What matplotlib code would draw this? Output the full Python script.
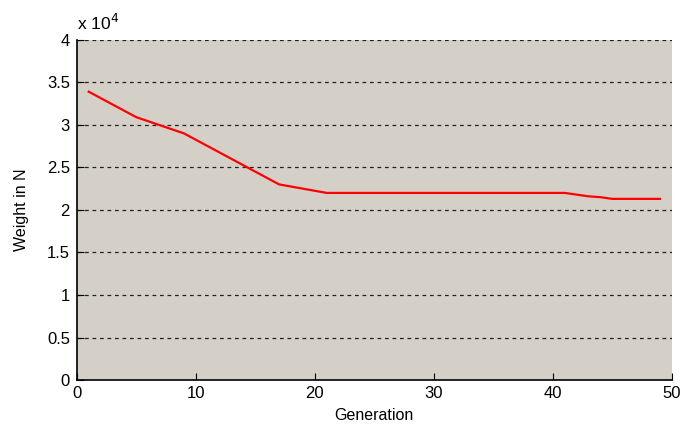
import numpy as np
import matplotlib
matplotlib.use('Agg')
import matplotlib.pyplot as plt

# values (weight in N per generation)
generation = [1, 5, 9, 17, 21, 41, 42, 43, 44, 45, 49]
weight = [33900, 30900, 29000, 23000, 22000, 22000, 21800, 21600, 21500, 21300, 21300]
y_ticks = [0, 0.5, 1, 1.5, 2, 2.5, 3, 3.5, 4]
x_ticks = [0, 10, 20, 30, 40, 50]

BG = '#d4d0c8'

plt.rcParams['font.family'] = ['Liberation Sans', 'DejaVu Sans']

fig = plt.figure(figsize=(6.8, 4.28), dpi=100)
ax = fig.add_axes([0.113, 0.112, 0.875, 0.795])
ax.set_facecolor(BG)

ax.plot(generation, np.array(weight) / 1e4, color='red', lw=1.6)

ax.set_xlim(0, 50)
ax.set_ylim(0, 4)
ax.set_xticks(x_ticks)
ax.set_yticks(y_ticks)
ax.set_yticklabels([('%g' % t) for t in y_ticks])

# only horizontal dashed grid, like the matlab figure
for t in y_ticks[1:]:
    ax.axhline(t, color='#222222', lw=0.9, ls=(0, (3, 3)), zorder=1)

for side in ['top', 'right']:
    ax.spines[side].set_visible(False)
ax.spines['left'].set_linewidth(1.2)
ax.spines['bottom'].set_linewidth(1.2)
ax.tick_params(direction='in', length=5, labelsize=12)
ax.tick_params(axis='y', pad=5)
ax.tick_params(axis='x', pad=4)

ax.set_xlabel('Generation', fontsize=11.5, labelpad=5)
ax.set_ylabel('Weight in N', fontsize=11.5, labelpad=13)
ax.text(0, 4.08, 'x 10$^4$', fontsize=12.5, transform=ax.transData,
        ha='left', va='bottom')

fig.savefig('out.png', dpi=100)
